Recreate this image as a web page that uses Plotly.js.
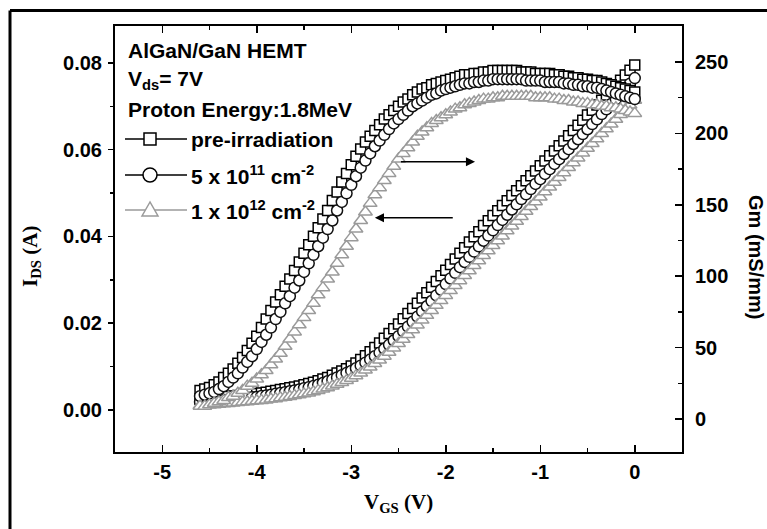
<!DOCTYPE html>
<html>
<head>
<meta charset="utf-8">
<script src="https://cdn.plot.ly/plotly-3.0.1.min.js"></script>
<style>html,body{margin:0;padding:0;background:#fff;}#chart{width:767px;height:529px;}</style>
</head>
<body>
<div id="chart"></div>
<script>
// Gate voltage sweep (V)
const vgs = [
-4.6,-4.55,-4.5,-4.45,-4.4,-4.35,-4.3,-4.25,-4.2,-4.15,
-4.1,-4.05,-4,-3.95,-3.9,-3.85,-3.8,-3.75,-3.7,-3.65,
-3.6,-3.55,-3.5,-3.45,-3.4,-3.35,-3.3,-3.25,-3.2,-3.15,
-3.1,-3.05,-3,-2.95,-2.9,-2.85,-2.8,-2.75,-2.7,-2.65,
-2.6,-2.55,-2.5,-2.45,-2.4,-2.35,-2.3,-2.25,-2.2,-2.15,
-2.1,-2.05,-2,-1.95,-1.9,-1.85,-1.8,-1.75,-1.7,-1.65,
-1.6,-1.55,-1.5,-1.45,-1.4,-1.35,-1.3,-1.25,-1.2,-1.15,
-1.1,-1.05,-1,-0.95,-0.9,-0.85,-0.8,-0.75,-0.7,-0.65,
-0.6,-0.55,-0.5,-0.45,-0.4,-0.35,-0.3,-0.25,-0.2,-0.15,
-0.1,-0.05,0];

// Drain current I_DS (A)
const idsPre = [
0.0025,0.0026,0.0027,0.0028,0.0029,0.0030,0.0031,0.0032,0.0033,0.0034,
0.0035,0.0036,0.0038,0.0039,0.0041,0.0043,0.0045,0.0047,0.0049,0.0051,
0.0053,0.0055,0.0058,0.0061,0.0064,0.0067,0.0071,0.0075,0.0080,0.0085,
0.0090,0.0095,0.0101,0.0108,0.0116,0.0125,0.0134,0.0144,0.0154,0.0165,
0.0176,0.0187,0.0198,0.0210,0.0222,0.0234,0.0246,0.0258,0.0270,0.0283,
0.0296,0.0309,0.0322,0.0335,0.0348,0.0361,0.0374,0.0387,0.0399,0.0411,
0.0425,0.0436,0.0448,0.0459,0.0471,0.0482,0.0494,0.0505,0.0517,0.0528,
0.0540,0.0551,0.0563,0.0574,0.0586,0.0597,0.0609,0.0620,0.0632,0.0644,
0.0656,0.0668,0.0680,0.0691,0.0703,0.0714,0.0726,0.0737,0.0749,0.0760,
0.0772,0.0783,0.0795];
const idsMid = [
0.0018,0.0019,0.0020,0.0021,0.0022,0.0023,0.0024,0.0025,0.0026,0.0027,
0.0028,0.0029,0.0030,0.0032,0.0033,0.0035,0.0037,0.0039,0.0041,0.0043,
0.0045,0.0047,0.0050,0.0052,0.0055,0.0058,0.0062,0.0066,0.0070,0.0075,
0.0080,0.0085,0.0090,0.0096,0.0102,0.0109,0.0116,0.0124,0.0132,0.0141,
0.0150,0.0160,0.0170,0.0181,0.0192,0.0203,0.0215,0.0227,0.0239,0.0251,
0.0264,0.0277,0.0290,0.0303,0.0316,0.0329,0.0341,0.0353,0.0365,0.0377,
0.0390,0.0402,0.0414,0.0426,0.0438,0.0450,0.0462,0.0474,0.0486,0.0497,
0.0509,0.0521,0.0532,0.0544,0.0555,0.0567,0.0578,0.0590,0.0601,0.0613,
0.0624,0.0636,0.0647,0.0659,0.0670,0.0682,0.0693,0.0705,0.0716,0.0728,
0.0740,0.0752,0.0765];
const idsHigh = [
0.0010,0.0011,0.0012,0.0012,0.0013,0.0014,0.0015,0.0016,0.0017,0.0018,
0.0019,0.0020,0.0021,0.0022,0.0023,0.0025,0.0026,0.0028,0.0029,0.0031,
0.0033,0.0035,0.0037,0.0039,0.0042,0.0045,0.0048,0.0051,0.0055,0.0059,
0.0063,0.0068,0.0073,0.0079,0.0085,0.0092,0.0099,0.0107,0.0115,0.0124,
0.0133,0.0143,0.0153,0.0163,0.0174,0.0185,0.0196,0.0207,0.0218,0.0229,
0.0241,0.0252,0.0264,0.0275,0.0287,0.0298,0.0310,0.0321,0.0333,0.0344,
0.0356,0.0367,0.0379,0.0390,0.0401,0.0413,0.0424,0.0435,0.0446,0.0458,
0.0469,0.0480,0.0491,0.0503,0.0514,0.0525,0.0536,0.0547,0.0559,0.0570,
0.0581,0.0592,0.0603,0.0614,0.0625,0.0637,0.0648,0.0659,0.0670,0.0681,
0.0692,0.0703,0.0714];

// Transconductance Gm (mS/mm)
const gmPre = [
20,21,22,24,26,29,32,35,39,43,
48,53,58,64,70,76,82,87,93,98,
104,110,116,122,128,134,140,146,153,159,
166,172,178,184,189,194,198,202,206,210,
213,216,219,222,224,227,229,231,232,234,
235,236,237,238,239,240,241,241,242,242,
243,243,244,244,244,244,244,244,243,243,
243,242,242,242,242,241,241,240,240,239,
239,238,238,237,237,236,235,234,233,232,
231,230,229];
const gmMid = [
16,17,18,19,21,23,26,29,32,36,
40,44,49,54,59,64,70,75,81,86,
92,97,103,109,115,121,127,133,139,146,
152,158,164,170,176,181,186,191,195,199,
203,207,210,213,216,219,221,223,225,227,
228,230,231,232,233,234,235,235,236,236,
237,237,238,238,238,238,238,238,238,237,
237,237,237,236,236,236,236,235,235,234,
234,233,233,232,232,231,230,229,228,227,
226,225,224];
const gmHigh = [
9,9,10,11,12,13,15,16,18,20,
23,25,28,31,34,38,42,46,51,56,
61,66,71,76,81,87,92,98,103,109,
115,121,127,133,139,145,151,157,162,167,
172,177,182,186,190,194,198,201,204,207,
209,211,213,215,217,218,220,221,222,223,
224,224,225,225,226,226,226,226,226,226,
226,225,225,225,225,224,224,223,223,222,
222,221,221,220,220,219,219,218,218,217,
216,215,214];

// Tick labels
const xTickVals = [-5, -4, -3, -2, -1, 0];
const xTickText = ['-5', '-4', '-3', '-2', '-1', '0'];

const seriesNames = ['pre-irradiation', '5 x 10<sup>11</sup> cm<sup>-2</sup>', '1 x 10<sup>12</sup> cm<sup>-2</sup>'];
const headerLines = ['AlGaN/GaN HEMT', 'V<sub>ds</sub>= 7V', 'Proton Energy:1.8MeV'];
const xTitle = 'V<sub>GS</sub> (V)';
const yTitle = 'I<sub>DS</sub> (A)';
const y2Title = 'Gm (mS/mm)';

const symbols = ['square', 'circle', 'triangle-up'];
const colors = ['#000000', '#111111', '#9a9a9a'];
const sizes = [10, 11, 12];

const idsSets = [idsPre, idsMid, idsHigh];
const gmSets = [gmPre, gmMid, gmHigh];

const traces = [];
for (let i = 0; i < 3; i++) {
  traces.push({
    x: vgs, y: gmSets[i], yaxis: 'y2', type: 'scatter', mode: 'markers',
    name: seriesNames[i], showlegend: false, hoverinfo: 'skip',
    marker: {symbol: symbols[i], size: sizes[i], color: 'white', line: {color: colors[i], width: 1.5}}
  });
  traces.push({
    x: vgs, y: idsSets[i], yaxis: 'y', type: 'scatter', mode: 'markers',
    name: seriesNames[i], showlegend: false, hoverinfo: 'skip',
    marker: {symbol: symbols[i], size: sizes[i], color: 'white', line: {color: colors[i], width: 1.5}}
  });
}

const sansBold = {family: 'Liberation Sans, Arial, sans-serif', size: 20, color: '#000', weight: 'bold'};
const serifBold = {family: 'Liberation Serif, Times New Roman, serif', size: 21, color: '#000', weight: 'bold'};

// layout helpers (paper coordinates of plot area: 115..682 x, 26..452 y)
const PL = 115, PR = 682, PT = 26, PB = 452;
const px = v => (v - PL) / (PR - PL);
const py = v => (PB - v) / (PB - PT);

const annotations = [];
const headerY = [50, 80, 109];
headerLines.forEach((t, i) => annotations.push({
  xref: 'paper', yref: 'paper', x: px(126), y: py(headerY[i]), xanchor: 'left', yanchor: 'middle',
  text: t, showarrow: false, font: Object.assign({}, sansBold, {size: 21})
}));
const legY = [139, 175, 210];
seriesNames.forEach((t, i) => annotations.push({
  xref: 'paper', yref: 'paper', x: px(189), y: py(legY[i]), xanchor: 'left', yanchor: 'middle',
  text: t, showarrow: false, font: Object.assign({}, sansBold, {size: 21})
}));
// axis titles
annotations.push({xref: 'paper', yref: 'paper', x: px(31), y: py(257), textangle: -90, xanchor: 'center', yanchor: 'middle',
  text: yTitle, showarrow: false, font: serifBold});
annotations.push({xref: 'paper', yref: 'paper', x: px(398), y: py(503), xanchor: 'center', yanchor: 'middle',
  text: xTitle, showarrow: false, font: serifBold});
annotations.push({xref: 'paper', yref: 'paper', x: px(756), y: py(257), textangle: 90, xanchor: 'center', yanchor: 'middle',
  text: y2Title, showarrow: false, font: sansBold});
// arrows (data coordinates on the left axis)
annotations.push({xref: 'x', yref: 'y', axref: 'x', ayref: 'y', x: -1.69, y: 0.0572, ax: -2.49, ay: 0.0572,
  text: '', showarrow: true, arrowhead: 2, arrowsize: 1.3, arrowwidth: 1.4, arrowcolor: '#000'});
annotations.push({xref: 'x', yref: 'y', axref: 'x', ayref: 'y', x: -2.75, y: 0.0443, ax: -1.91, ay: 0.0443,
  text: '', showarrow: true, arrowhead: 2, arrowsize: 1.3, arrowwidth: 1.4, arrowcolor: '#000'});

const shapes = [];
// outer frame (left and top)
shapes.push({type: 'line', xref: 'paper', yref: 'paper', x0: px(10), x1: px(10), y0: py(540), y1: py(10.5), line: {color: '#000', width: 3}});
shapes.push({type: 'line', xref: 'paper', yref: 'paper', x0: px(10), x1: px(780), y0: py(10.5), y1: py(10.5), line: {color: '#000', width: 3}});
// legend samples
const lineColors = ['#000', '#000', '#9a9a9a'];
legY.forEach((yy, i) => {
  shapes.push({type: 'line', xref: 'paper', yref: 'paper', x0: px(125), x1: px(187), y0: py(yy), y1: py(yy), line: {color: lineColors[i], width: 1.5}});
});
const cx = px(150);
shapes.push({type: 'rect', xref: 'paper', yref: 'paper', xsizemode: 'pixel', ysizemode: 'pixel', xanchor: cx, yanchor: py(legY[0]),
  x0: -6, x1: 6, y0: -6, y1: 6, fillcolor: 'white', line: {color: '#000', width: 1.5}});
shapes.push({type: 'circle', xref: 'paper', yref: 'paper', xsizemode: 'pixel', ysizemode: 'pixel', xanchor: cx, yanchor: py(legY[1]),
  x0: -7, x1: 7, y0: -7, y1: 7, fillcolor: 'white', line: {color: '#000', width: 1.5}});
shapes.push({type: 'path', xref: 'paper', yref: 'paper', xsizemode: 'pixel', ysizemode: 'pixel', xanchor: cx, yanchor: py(legY[2]),
  path: 'M0,8 L-8,-6 L8,-6 Z', fillcolor: 'white', line: {color: '#9a9a9a', width: 1.5}});

const tickFont = {family: 'Liberation Sans, Arial, sans-serif', size: 20, color: '#000', weight: 'bold'};

const layout = {
  width: 767, height: 529,
  margin: {l: PL, r: 767 - PR, t: PT, b: 529 - PB, pad: 0},
  paper_bgcolor: 'white', plot_bgcolor: 'white',
  showlegend: false,
  font: sansBold,
  xaxis: {
    range: [-5.5, 0.5], tickmode: 'array', tickvals: xTickVals, ticktext: xTickText,
    ticks: 'inside', ticklen: 7, tickwidth: 1.5, tickcolor: '#000',
    showline: true, linewidth: 2, linecolor: '#000', mirror: 'ticks', showgrid: false, zeroline: false,
    minor: {tickmode: 'linear', tick0: 0, dtick: 0.5, ticks: 'inside', ticklen: 4, tickwidth: 1.5, tickcolor: '#000', showgrid: false},
    tickfont: tickFont, ticklabelstandoff: 1
  },
  yaxis: {
    range: [-0.0097, 0.0885], tick0: 0, dtick: 0.02, tickformat: '.2f', ticks: 'outside', ticklen: 5, tickwidth: 1.5, tickcolor: '#000',
    showline: true, linewidth: 2, linecolor: '#000', showgrid: false, zeroline: false,
    minor: {dtick: 0.01, ticks: 'outside', ticklen: 3, tickwidth: 1.5, tickcolor: '#000', showgrid: false},
    tickfont: tickFont, ticklabelstandoff: 2
  },
  yaxis2: {
    overlaying: 'y', side: 'right', range: [-23.1, 275.2], tick0: 0, dtick: 50, ticks: 'inside', ticklen: 7, tickwidth: 1.5, tickcolor: '#000',
    showline: true, linewidth: 2, linecolor: '#000', showgrid: false, zeroline: false,
    minor: {dtick: 25, ticks: 'inside', ticklen: 4, tickwidth: 1.5, tickcolor: '#000', showgrid: false},
    tickfont: tickFont, ticklabelstandoff: 7
  },
  annotations: annotations,
  shapes: shapes
};

Plotly.newPlot('chart', traces, layout, {staticPlot: true, displayModeBar: false});
</script>
</body>
</html>
